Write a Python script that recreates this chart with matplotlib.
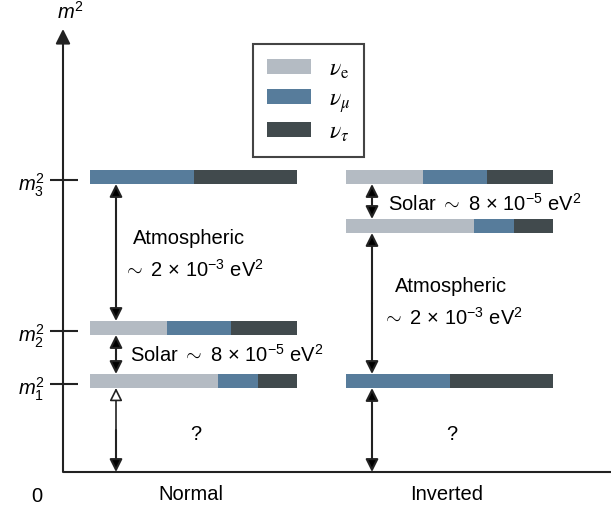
import matplotlib
matplotlib.use("Agg")
import matplotlib.pyplot as plt
from matplotlib.patches import Patch

plt.rcParams['font.family'] = 'Liberation Sans'
plt.rcParams['mathtext.fontset'] = 'custom'
plt.rcParams['mathtext.rm'] = 'Liberation Sans'
plt.rcParams['mathtext.it'] = 'Liberation Sans:italic'

# Data
flavors = [r"$\nu_{\mathrm{e}}$", r"$\nu_\mu$", r"$\nu_\tau$"]
colors = ["#b4bbc3", "#577c9b", "#414a4d"]

# flavour content (e, mu, tau) of each mass state
mix_m1 = [0.62, 0.19, 0.19]
mix_m2 = [0.37, 0.31, 0.32]
mix_m3 = [0.00, 0.50, 0.50]
mixes = [mix_m1, mix_m2, mix_m3]

# schematic mass-squared levels (m1, m2, m3)
levels_normal = [88, 141, 292]
levels_inverted = [243, 292, 88]

orderings = ["Normal", "Inverted"]
mass_labels = [r"$m_1^2$", r"$m_2^2$", r"$m_3^2$"]
solar_txt = r"Solar $\sim$ 8 $\times$ 10$^{-5}$ eV$^2$"
atm_txt = r"$\sim$ 2 $\times$ 10$^{-3}$ eV$^2$"

# Layout
fs = 14.5
bar_len = 207
bar_h = 14
bar_left = [90, 346]
arrow_x = [116, 372]
line_col = "#222222"

fig = plt.figure(figsize=(6.11, 5.10), dpi=100)
ax = fig.add_axes([0, 0, 1, 1])
ax.set_xlim(0, 611)
ax.set_ylim(-37, 473)
ax.axis("off")

# axes
ax.plot([63, 611], [0, 0], color=line_col, lw=1.5, solid_capstyle="butt")
ax.annotate("", xy=(63, 443), xytext=(63, 0),
            arrowprops=dict(arrowstyle="-|>", color=line_col, lw=1.5,
                            mutation_scale=22, shrinkA=0, shrinkB=0))
ax.text(70, 461, r"$m^2$", fontsize=fs, ha="center", va="center")
ax.text(37, -24, "0", fontsize=fs, ha="center", va="center")
ax.hlines(levels_normal, 50, 78, color=line_col, lw=1.5)
for lev, lab in zip(levels_normal, mass_labels):
    ax.text(45, lev - 4, lab, fontsize=fs, ha="right", va="center")

# bars
for i, levels in enumerate([levels_normal, levels_inverted]):
    for lev, mix in zip(levels, mixes):
        left = bar_left[i]
        for frac, c in zip(mix, colors):
            ax.barh(lev + 3, frac * bar_len, left=left, height=bar_h,
                    color=c, linewidth=0)
            left += frac * bar_len
    ax.text(bar_left[i] + bar_len / 2 - 3, -22, orderings[i], fontsize=fs,
            ha="center", va="center")
    ax.text(bar_left[i] + 106, 38, "?", fontsize=fs, ha="center", va="center")


def dbl_arrow(x, y0, y1, open_top=False):
    ax.annotate("", xy=(x, y0), xytext=(x, (y0 + y1) / 2),
                arrowprops=dict(arrowstyle="-|>", color=line_col, fc="black",
                                lw=1.5, mutation_scale=19, shrinkA=0, shrinkB=0))
    ax.annotate("", xy=(x, y1), xytext=(x, (y0 + y1) / 2),
                arrowprops=dict(arrowstyle="-|>", ec=line_col,
                                fc="white" if open_top else "black",
                                lw=1.2 if open_top else 1.5, mutation_scale=19,
                                shrinkA=0, shrinkB=0))


top = lambda lev: lev + 3 + bar_h / 2
bot = lambda lev: lev + 3 - bar_h / 2

# normal ordering arrows
n1, n2, n3 = levels_normal
dbl_arrow(arrow_x[0], top(n2), bot(n3))
dbl_arrow(arrow_x[0], top(n1), bot(n2))
dbl_arrow(arrow_x[0], 0, bot(n1), open_top=True)
ax.text(133, 234, "Atmospheric", fontsize=fs, ha="left", va="center")
ax.text(123, 203, atm_txt, fontsize=fs, ha="left", va="center")
ax.text(130, 118, solar_txt, fontsize=fs, ha="left", va="center")

# inverted ordering arrows
i1, i2, i3 = levels_inverted
dbl_arrow(arrow_x[1], top(i1), bot(i2))
dbl_arrow(arrow_x[1], top(i3), bot(i1))
dbl_arrow(arrow_x[1], 0, bot(i3))
ax.text(388, 269, solar_txt, fontsize=fs, ha="left", va="center")
ax.text(395, 186, "Atmospheric", fontsize=fs, ha="left", va="center")
ax.text(382, 155, atm_txt, fontsize=fs, ha="left", va="center")

# legend
lfs = 17
handles = [Patch(facecolor=c, edgecolor="none") for c in colors]
leg = ax.legend(handles, flavors, loc="upper left",
                bbox_to_anchor=(253 / 611, 1 - 45 / 510),
                bbox_transform=fig.transFigure, fontsize=lfs, fancybox=False,
                framealpha=1, edgecolor="#444444", borderpad=0.6,
                handlelength=44 / 23.6, handleheight=14 / 23.6,
                handletextpad=0.75, labelspacing=0.3, borderaxespad=0)
leg.get_frame().set_linewidth(1.5)
for t in leg.get_texts():
    t.set_math_fontfamily("stix")

fig.savefig("out.png", dpi=100)
